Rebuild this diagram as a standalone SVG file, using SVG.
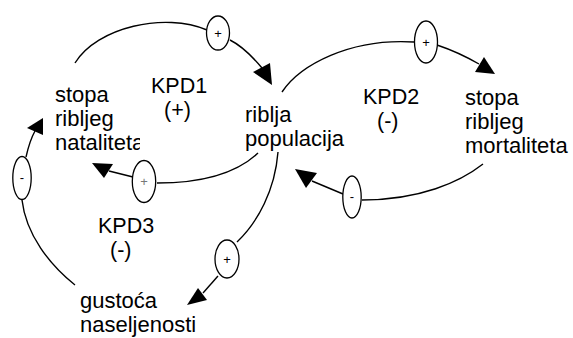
<svg xmlns="http://www.w3.org/2000/svg" width="573" height="338" viewBox="0 0 573 338">
<style>
text{font-family:"Liberation Sans",Arial,sans-serif;fill:#000}
.t{font-size:22px}
.l{font-size:21.5px}
.c{fill:none;stroke:#000;stroke-width:1.4}
.ah{fill:#000;stroke:none}
.pol{fill:#fff;stroke:#000;stroke-width:1.3}
.ps{font-size:13px;text-anchor:middle}
</style>
<defs>
<clipPath id="clipNat"><rect x="0" y="0" width="140" height="338"/></clipPath>
</defs>
<rect width="573" height="338" fill="#fff"/>
<g id="connectors">
<path class="c" d="M75,63 C97,27 165,12 207,30"/>
<path class="c" d="M230,40 C242,46 252,56 262,68"/>
<polygon class="ah" points="272,85 253,72 270,63"/>
<path class="c" d="M282,92 C300,65 350,38 414,42"/>
<path class="c" d="M437,45 C452,50 465,56 479,64"/>
<polygon class="ah" points="495,74 475,72 484,57"/>
<path class="c" d="M483,164 C460,182 420,200 362,200"/>
<path class="c" d="M343,194 L312,181"/>
<polygon class="ah" points="295,169 317,173 306,188"/>
<path class="c" d="M258,153 C240,170 210,183 157,183"/>
<path class="c" d="M133,177 L109,171"/>
<polygon class="ah" points="92,163 113,164 104,178"/>
<path class="c" d="M26,157 C28,148 30,140 35,131"/>
<polygon class="ah" points="43,118 27,128 43,135"/>
<path class="c" d="M22,200 C26,235 50,265 75,285"/>
<path class="c" d="M278,152 C275,190 258,222 237,242"/>
<path class="c" d="M218,276 L203,293"/>
<polygon class="ah" points="187,305 198,288 207,300"/>
<g id="polarities">
<ellipse class="pol" cx="218" cy="33" rx="11.5" ry="17"/>
<text class="ps" x="218" y="38">+</text>
<ellipse class="pol" cx="426" cy="42" rx="11.5" ry="21"/>
<text class="ps" x="426" y="47">+</text>
<ellipse class="pol" cx="352" cy="197" rx="9.2" ry="21"/>
<text class="ps" x="352" y="201">-</text>
<ellipse class="pol" cx="144" cy="181.5" rx="11.7" ry="21"/>
<text class="ps" x="144" y="186" style="fill:#777">+</text>
<ellipse class="pol" cx="22" cy="178" rx="9.2" ry="21.5"/>
<text class="ps" x="22" y="182">-</text>
<ellipse class="pol" cx="227" cy="259" rx="12" ry="19"/>
<text class="ps" x="227" y="264">+</text>
</g>
</g>
<g id="n-natalitet">
<text class="t" x="55" y="102">stopa</text>
<text class="t" x="55" y="126">ribljeg</text>
<text class="t" x="55" y="150" clip-path="url(#clipNat)">nataliteta</text>
</g>
<g id="n-populacija">
<text class="t" x="245" y="122">riblja</text>
<text class="t" x="245" y="146">populacija</text>
</g>
<g id="n-mortalitet">
<text class="t" x="465" y="105">stopa</text>
<text class="t" x="465" y="129">ribljeg</text>
<text class="t" x="465" y="153">mortaliteta</text>
</g>
<g id="n-gustoca">
<text class="t" x="80" y="308">gustoća</text>
<text class="t" x="80" y="332">naseljenosti</text>
</g>
<g id="loop-labels">
<text class="l" x="151" y="93">KPD1</text>
<text class="l" x="164" y="117">(+)</text>
<text class="l" x="363" y="104">KPD2</text>
<text class="l" x="377" y="128">(-)</text>
<text class="l" x="98" y="233">KPD3</text>
<text class="l" x="110" y="257">(-)</text>
</g>
</svg>
